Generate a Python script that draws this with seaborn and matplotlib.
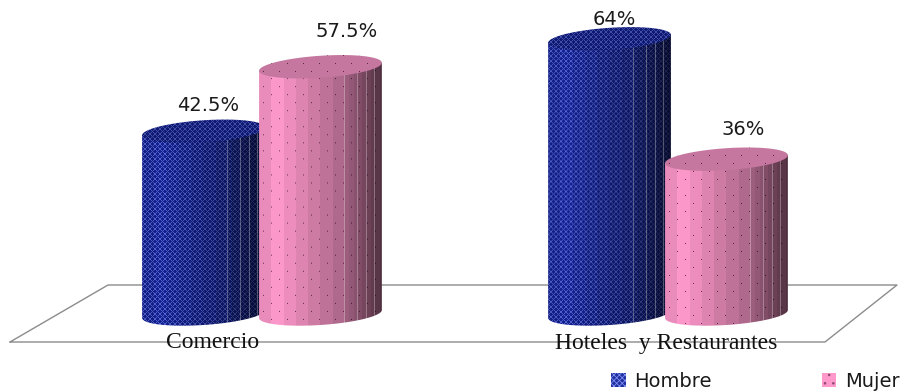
import numpy as np
import matplotlib
matplotlib.use('Agg')
import matplotlib.pyplot as plt
import pandas as pd
import seaborn as sns
from matplotlib.patches import Patch, PathPatch
from matplotlib.path import Path

# values
categories = ['Comercio', 'Hoteles  y Restaurantes']
hombre = [42.5, 64]
mujer = [57.5, 36]
value_labels = ['42.5%', '64%', '57.5%', '36%']
series_names = ['Hombre', 'Mujer']

# pixel placement of the texts
label_offsets = [(5, 26), (5, 19), (26, 35), (17, 30)]
cat_offsets = [(-49, -29), (-2, -29)]

W, H = 908, 391
BASE_Y, PX_PER_UNIT = 314, 4.3
CAT0_X, CAT_STEP = 262, 406
RY, TILT = 11 / PX_PER_UNIT, 4 / PX_PER_UNIT

dataset = pd.DataFrame({
    'categoria': categories * 2,
    'sexo': [series_names[0]] * 2 + [series_names[1]] * 2,
    'valor': hombre + mujer,
})

sns.set_theme(style='white')
plt.rcParams['hatch.linewidth'] = 0.6
fig = plt.figure(figsize=(W / 100, H / 100), dpi=100)
ax = fig.add_axes([0, 0, 1, 1])
sns.barplot(data=dataset, x='categoria', y='valor', hue='sexo', ax=ax, width=0.576, gap=-0.05,
            palette=['#1f2f9f', '#ff99cc'], legend=False, errorbar=None)
ax.set_xlim(-CAT0_X / CAT_STEP, (W - CAT0_X) / CAT_STEP)
ax.set_ylim((BASE_Y - H) / PX_PER_UNIT, BASE_Y / PX_PER_UNIT)
ax.axis('off')

# floor of the 3d chart
floor = [(10, 342), (108, 285), (897, 285), (825, 342), (10, 342)]
ax.plot([p[0] / W for p in floor], [1 - p[1] / H for p in floor], color='#8c8c8c', lw=1,
        transform=ax.transAxes, zorder=1)


def shading(w):
    # stepped light across the cylinder, facets get narrow towards the right edge
    u = (np.arange(w) + 0.5) / w
    edges = np.r_[np.arange(0, 0.7, 0.1), np.arange(0.7, 1.0, 0.035)]
    step = edges[np.searchsorted(edges, u, side='right') - 1] + 0.02
    light = np.where(step < 0.1, 0.9 + step,
                     np.where(step < 0.7, 1.0 - (step - 0.1) * 0.6, 0.64 - (step - 0.7) * 1.1))
    return light, u


def texture(w, h, kind, top=False):
    light, u = shading(w)
    yy, xx = np.mgrid[0:h, 0:w]
    shade = light[xx]
    if kind == 0:
        base = np.array([0.08, 0.13, 0.56])
        dots = np.array([0.42, 0.50, 0.95])
        a = ((xx + yy) % 5 == 0) | ((xx - yy) % 5 == 0)
        mix = np.where(a, 0.7, 0.0)
    else:
        base = np.array([1.0, 0.60, 0.80])
        dots = np.array([0.36, 0.12, 0.26])
        row = yy % 16
        a = ((row == 3) & (xx % 16 == 4)) | ((row == 11) & (xx % 16 == 12))
        mix = np.where(a, 0.85, 0.0)
    if top:
        shade = np.full_like(shade, 0.78 if kind == 1 else 0.8)
    img = base[None, None, :] * (1 - mix[..., None]) + dots[None, None, :] * mix[..., None]
    img = img * shade[..., None]
    # thin light facet lines
    if not top:
        for f in (0.695, 0.80, 0.87, 0.94):
            col = int(f * w)
            img[:, col, :] = img[:, col, :] * 0.65 + 0.35 * 0.85
    return np.clip(img, 0, 1)


def ellipse(cx, cy, rx, t):
    return np.c_[cx + rx * np.cos(t), cy + RY * np.sin(t) + TILT * np.cos(t)]


def cylinder(bar, kind, z):
    x0, w_data, top = bar.get_x(), bar.get_width(), bar.get_height()
    cx, rx = x0 + w_data / 2, w_data / 2
    w_px = int(round(w_data * CAT_STEP))

    # body = side walls + front half of the bottom ellipse
    bottom = ellipse(cx, 0, rx, np.linspace(np.pi, 2 * np.pi, 80))
    body = np.vstack([[(x0, top - TILT)], bottom, [(x0 + w_data, top + TILT)], [(x0, top - TILT)]])
    low, high = -RY - TILT, top + RY + TILT
    h_px = int(round((high - low) * PX_PER_UNIT))
    im = ax.imshow(texture(w_px, h_px, kind), extent=(x0, x0 + w_data, low, high), aspect='auto',
                   interpolation='bilinear', zorder=z)
    clip = PathPatch(Path(body), transform=ax.transData, fc='none', ec='none')
    ax.add_patch(clip)
    im.set_clip_path(clip)

    # top cap
    cap = ellipse(cx, top, rx, np.linspace(0, 2 * np.pi, 120))
    low2, high2 = top - RY - TILT, top + RY + TILT
    h2 = int(round((high2 - low2) * PX_PER_UNIT))
    im2 = ax.imshow(texture(w_px, h2, kind, top=True), extent=(x0, x0 + w_data, low2, high2),
                    aspect='auto', interpolation='bilinear', zorder=z + 0.1)
    clip2 = PathPatch(Path(cap), transform=ax.transData, fc='none', ec='none')
    ax.add_patch(clip2)
    im2.set_clip_path(clip2)


bars = []
for kind, container in enumerate(ax.containers):
    for i, bar in enumerate(container):
        cylinder(bar, kind, 2 + kind + i * 0.2)
        bar.set_visible(False)
        bars.append(bar)

ax.set_xlim(-CAT0_X / CAT_STEP, (W - CAT0_X) / CAT_STEP)
ax.set_ylim((BASE_Y - H) / PX_PER_UNIT, BASE_Y / PX_PER_UNIT)

for bar, text, off in zip(bars, value_labels, label_offsets):
    ax.annotate(text, (bar.get_x() + bar.get_width() / 2, bar.get_height()), xytext=off,
                textcoords='offset pixels', ha='center', va='center', fontsize=14,
                color='#1a1a1a', family='DejaVu Sans', zorder=10)

for i, (cat, off) in enumerate(zip(categories, cat_offsets)):
    ax.annotate(cat, (i, 0), xytext=off, textcoords='offset pixels', ha='center', va='center',
                fontsize=17, color='#111111', family='Liberation Serif', zorder=10)

# legend
handles = [Patch(facecolor='#1f2f9f', edgecolor='#7f8cf0', hatch='xxxxxx', lw=0),
           Patch(facecolor='#ff99cc', edgecolor='#8a4a6a', hatch='..', lw=0)]
leg = ax.legend(handles, series_names, ncol=2, frameon=False, fontsize=14, loc='lower left',
                bbox_to_anchor=(611 / W, 0.001), columnspacing=5.64, handlelength=0.75,
                handleheight=0.7, handletextpad=0.45, borderpad=0, borderaxespad=0,
                labelcolor='#1a1a1a')

plt.savefig('out.png', dpi=100)
